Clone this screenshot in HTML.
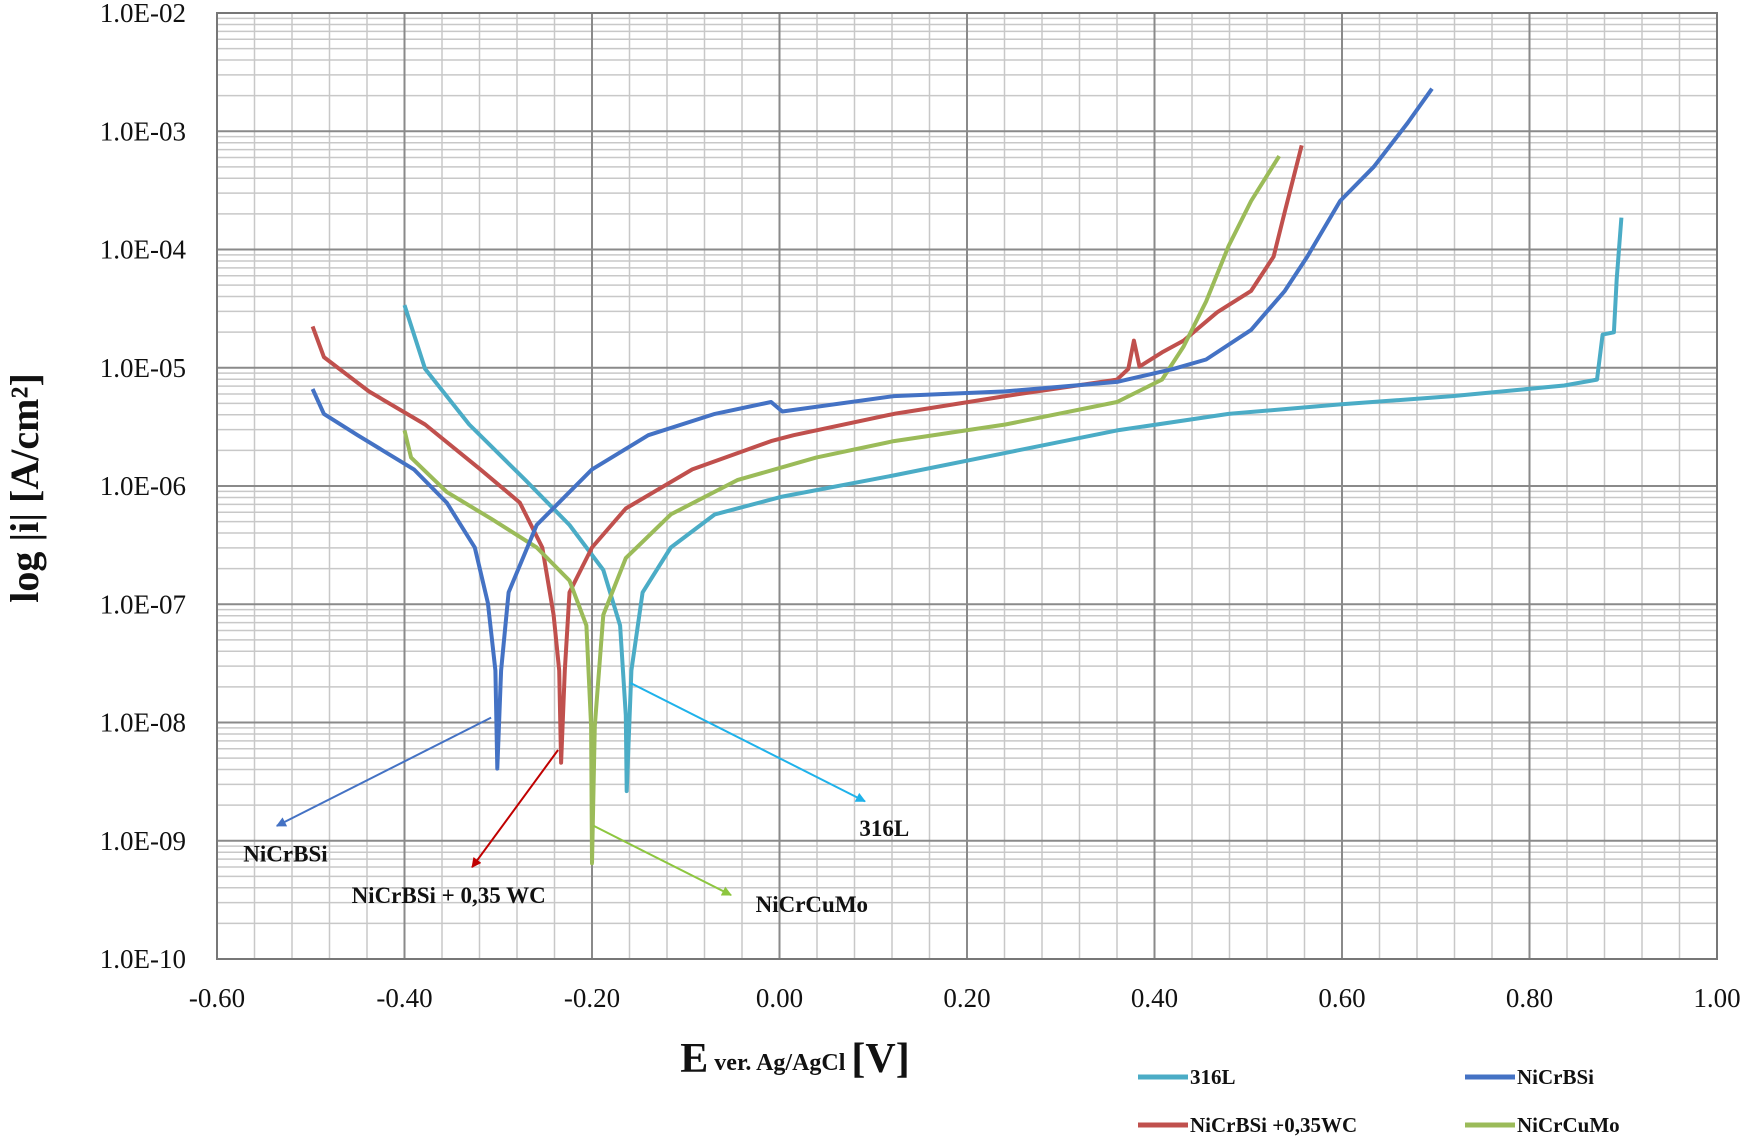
<!DOCTYPE html>
<html><head><meta charset="utf-8"><style>
html,body{margin:0;padding:0;background:#fff;}
svg{display:block;font-family:"Liberation Serif",serif;}
</style></head><body>
<svg id="chart" width="1750" height="1140" viewBox="0 0 1750 1140" xmlns="http://www.w3.org/2000/svg"></svg>
<script>
const xTicks=[-0.6,-0.4,-0.2,0,0.2,0.4,0.6,0.8,1.0];
const xTickLabels=["-0.60","-0.40","-0.20","0.00","0.20","0.40","0.60","0.80","1.00"];
const yTickLabels=["1.0E-02","1.0E-03","1.0E-04","1.0E-05","1.0E-06","1.0E-07","1.0E-08","1.0E-09","1.0E-10"];
const yDecades=[-2,-3,-4,-5,-6,-7,-8,-9,-10];
const seriesNames=["316L","NiCrBSi","NiCrBSi +0,35WC","NiCrCuMo"];
const e316=[-0.400,-0.378,-0.331,-0.271,-0.224,-0.188,-0.170,-0.164,-0.163,-0.158,-0.146,-0.116,-0.069,0.003,0.122,0.241,0.360,0.479,0.598,0.718,0.837,0.872,0.878,0.890,0.893,0.898];
const l316=[-4.47,-5.01,-5.48,-5.95,-6.33,-6.71,-7.18,-7.94,-8.58,-7.56,-6.90,-6.52,-6.24,-6.09,-5.91,-5.72,-5.53,-5.39,-5.31,-5.24,-5.15,-5.10,-4.72,-4.70,-4.25,-3.73];
const eNi=[-0.498,-0.486,-0.450,-0.390,-0.355,-0.325,-0.311,-0.303,-0.301,-0.297,-0.289,-0.259,-0.200,-0.140,-0.069,-0.009,0.003,0.122,0.241,0.360,0.420,0.455,0.503,0.539,0.563,0.598,0.634,0.670,0.696];
const lNi=[-5.18,-5.39,-5.57,-5.86,-6.14,-6.52,-6.99,-7.56,-8.39,-7.56,-6.90,-6.33,-5.86,-5.57,-5.39,-5.29,-5.37,-5.24,-5.20,-5.12,-5.01,-4.93,-4.68,-4.35,-4.06,-3.59,-3.30,-2.93,-2.64];
const eWC=[-0.498,-0.486,-0.438,-0.378,-0.319,-0.277,-0.253,-0.241,-0.235,-0.233,-0.229,-0.224,-0.200,-0.164,-0.093,-0.009,0.015,0.122,0.241,0.360,0.372,0.378,0.384,0.408,0.431,0.467,0.503,0.527,0.539,0.557];
const lWC=[-4.65,-4.91,-5.20,-5.48,-5.86,-6.14,-6.52,-7.09,-7.56,-8.34,-7.56,-6.90,-6.52,-6.19,-5.86,-5.62,-5.57,-5.39,-5.24,-5.10,-5.01,-4.77,-4.99,-4.87,-4.77,-4.53,-4.35,-4.06,-3.68,-3.12];
const eCu=[-0.400,-0.393,-0.355,-0.307,-0.259,-0.224,-0.206,-0.201,-0.200,-0.197,-0.188,-0.164,-0.116,-0.045,0.039,0.122,0.241,0.360,0.408,0.431,0.455,0.479,0.503,0.533];
const lCu=[-5.53,-5.76,-6.05,-6.28,-6.52,-6.80,-7.18,-8.03,-9.19,-8.03,-7.09,-6.61,-6.24,-5.95,-5.76,-5.62,-5.48,-5.29,-5.10,-4.82,-4.44,-3.97,-3.59,-3.21];

const svg=document.getElementById('chart');
const NS="http://www.w3.org/2000/svg";
const L=217,R=1717,T=13,B=959;
const xs=v=>L+(v+0.6)/1.6*(R-L);
const ys=lg=>T+(-2-lg)/8*(B-T);
function mk(tag,attrs,parent){const e=document.createElementNS(NS,tag);for(const k in attrs)e.setAttribute(k,attrs[k]);(parent||svg).appendChild(e);return e;}
const grid=mk('g',{});


for(let d=-10;d<-2;d++){for(let m=2;m<=9;m++){const y=ys(d+Math.log10(m));mk('line',{x1:L,x2:R,y1:y,y2:y,stroke:'#c8c8c8','stroke-width':1.5},grid);}}
for(let v=-0.6;v<1.0001;v+=0.04){const x=xs(v);mk('line',{x1:x,x2:x,y1:T,y2:B,stroke:'#c8c8c8','stroke-width':1.5},grid);}
yDecades.forEach(d=>{const y=ys(d);mk('line',{x1:L,x2:R,y1:y,y2:y,stroke:'#8a8a8a','stroke-width':2},grid);});
xTicks.forEach(v=>{const x=xs(v);mk('line',{x1:x,x2:x,y1:T,y2:B,stroke:'#8a8a8a','stroke-width':2},grid);});
mk('rect',{x:L,y:T,width:R-L,height:B-T,fill:'none',stroke:'#777','stroke-width':2});
yTickLabels.forEach((t,i)=>{const e=mk('text',{x:186,y:ys(yDecades[i])+9,'text-anchor':'end','font-size':27,fill:'#111'});e.textContent=t;

});
xTickLabels.forEach((t,i)=>{const e=mk('text',{x:xs(xTicks[i]),y:1007,'text-anchor':'middle','font-size':27,fill:'#111'});e.textContent=t;

});
const colors=['#4BACC6','#4472C4','#C0504D','#9BBB59'];
const data=[[e316,l316],[eNi,lNi],[eWC,lWC],[eCu,lCu]];
const order=[0,2,3,1];
order.forEach(i=>{const [E,Lg]=data[i];const p=E.map((v,j)=>(j?'L':'M')+xs(v).toFixed(1)+','+ys(Lg[j]).toFixed(1)).join(' ');
const path=mk('path',{d:p,fill:'none',stroke:colors[i],'stroke-width':4,'stroke-linejoin':'round'});

});
// annotations
const s=1.1161;
const ann=[[440,643,248,740,'#4472C4','NiCrBSi',218,772,'start'],[500,672,423,777,'#C00000','NiCrBSi + 0,35 WC',315,809,'start'],[565,612,775,718,'#1FB2EA','316L',770,749,'start'],[532,740,655,802,'#8DC63F','NiCrCuMo',677,817,'start']];
const defs=mk('defs',{});
ann.forEach((a,i)=>{const m=mk('marker',{id:'ar'+i,viewBox:'0 0 10 10',refX:9,refY:5,markerWidth:5,markerHeight:5,orient:'auto'},defs);mk('path',{d:'M0,0 L10,5 L0,10 z',fill:a[4]},m);
const ln=mk('line',{x1:a[0]*s,y1:a[1]*s,x2:a[2]*s,y2:a[3]*s,stroke:a[4],'stroke-width':2,'marker-end':'url(#ar'+i+')'});


const t=mk('text',{x:a[6]*s,y:a[7]*s,'font-size':23,'font-weight':'bold',fill:'#111'});t.textContent=a[5];

});
// axis titles
const xt=mk('text',{x:795,y:1072,'text-anchor':'middle','font-size':42,'font-weight':'bold',fill:'#111'});


xt.innerHTML='E<tspan font-size="24" dy="-2"> ver. Ag/AgCl </tspan><tspan dy="2">[V]</tspan>';
const yt=mk('text',{x:0,y:0,transform:'translate(38,488) rotate(-90)','text-anchor':'middle','font-size':40,'font-weight':'bold',fill:'#111'});


yt.textContent='log |i| [A/cm²]';
// legend
const leg=[[1138,1077,0],[1465,1077,1],[1138,1125,2],[1465,1125,3]];
leg.forEach(l=>{const g=mk('g',{});


mk('line',{x1:l[0],x2:l[0]+50,y1:l[1],y2:l[1],stroke:colors[l[2]],'stroke-width':5},g);
const t=mk('text',{x:l[0]+52,y:l[1]+7,'font-size':21,'font-weight':'bold',fill:'#111'},g);t.textContent=seriesNames[l[2]];});
</script>
</body></html>
